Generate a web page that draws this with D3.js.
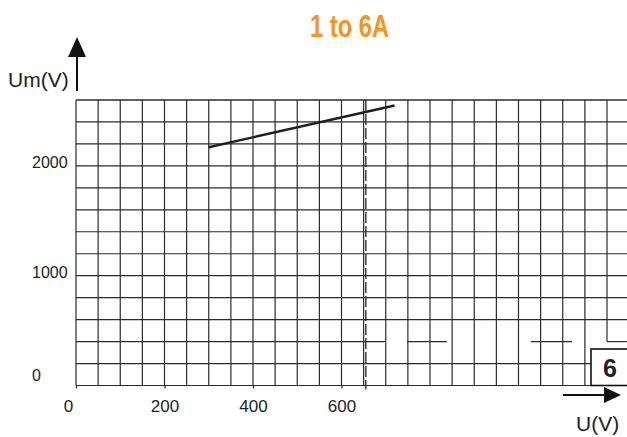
<!DOCTYPE html>
<html>
<head>
<meta charset="utf-8">
<script src="https://cdn.jsdelivr.net/npm/d3@7"></script>
<style>
  body { margin: 0; background: #fff; }
  svg { display: block; }
</style>
</head>
<body>
<div id="chart"></div>
<script>
// data
var curveU = [300, 720];
var curveUm = [2170, 2550];
var markerU = 655;            // dashed vertical line
var xTicks = [0, 200, 400, 600];
var yTicks = [0, 1000, 2000];
var xGrid = d3.range(0, 1201, 50);
var yGrid = [0, 200, 600, 800, 1000, 1200, 1400, 1600, 1800, 2000, 2200, 2400, 2600];
// the 400 line is only partly printed on the paper
var partialGridUm = 400;
var partialGridSegs = [[0, 698], [748, 838], [1028, 1121], [1200, 1245]];

var svgWidth = 627, svgHeight = 437;

var svg = d3.select("#chart").append("svg")
  .attr("width", svgWidth)
  .attr("height", svgHeight);

var x = d3.scaleLinear().domain([0, 1200]).range([76, 607]);
var y = d3.scaleLinear().domain([0, 2600]).range([385.5, 100]);

var ink = "#2b2b2b";

// title
svg.append("text")
  .attr("x", 310)
  .attr("y", 37)
  .attr("textLength", 79)
  .attr("lengthAdjust", "spacingAndGlyphs")
  .attr("font-family", "'Liberation Sans Narrow', 'Liberation Sans', Arial, sans-serif")
  .attr("font-weight", "bold")
  .attr("font-size", "32px")
  .attr("fill", "#f7941d")
  .text("1 to 6A");

// grid
var grid = svg.append("g");
grid.selectAll("line.v")
  .data(xGrid)
  .enter().append("line")
  .attr("class", "v")
  .attr("x1", d => x(d)).attr("x2", d => x(d))
  .attr("y1", y(2600))
  .attr("y2", d => d === 1200 ? y(partialGridUm) : y(0))
  .attr("stroke", ink)
  .attr("stroke-width", 1.2);

grid.selectAll("line.h")
  .data(yGrid)
  .enter().append("line")
  .attr("class", "h")
  .attr("x1", x(0))
  .attr("x2", svgWidth)
  .attr("y1", d => y(d)).attr("y2", d => y(d))
  .attr("stroke", ink)
  .attr("stroke-width", d => d === 2600 ? 1.6 : 1.2);

grid.selectAll("line.p")
  .data(partialGridSegs)
  .enter().append("line")
  .attr("class", "p")
  .attr("x1", d => x(d[0])).attr("x2", d => x(d[1]))
  .attr("y1", y(partialGridUm)).attr("y2", y(partialGridUm))
  .attr("stroke", ink)
  .attr("stroke-width", 1.2);

// x axis labels + small ticks
var xAxis = svg.append("g")
  .attr("transform", `translate(0, ${y(0)})`)
  .call(d3.axisBottom(x).tickValues(xTicks).tickSize(3).tickPadding(11).tickFormat(d3.format("d")));
xAxis.select(".domain").remove();
xAxis.selectAll("line").attr("stroke", ink).attr("stroke-width", 1.2);
xAxis.selectAll("text")
  .attr("font-family", "'Liberation Sans', Arial, sans-serif")
  .attr("font-size", "17px")
  .attr("fill", "#222")
  .attr("dx", d => d === 0 ? -8 : 0);

// y axis labels
var yAxis = svg.append("g")
  .attr("transform", `translate(${x(0)}, 0)`)
  .call(d3.axisLeft(y).tickValues(yTicks).tickSize(0).tickFormat(d3.format("d")));
yAxis.select(".domain").remove();
yAxis.selectAll("text")
  .attr("x", -44)
  .attr("dy", d => d === 0 ? -5 : 1.5)
  .attr("text-anchor", "start")
  .attr("font-family", "'Liberation Sans', Arial, sans-serif")
  .attr("font-size", "16px")
  .attr("fill", "#222");

// dashed marker
svg.append("line")
  .attr("x1", x(markerU)).attr("x2", x(markerU))
  .attr("y1", y(2600)).attr("y2", y(0) + 4)
  .attr("stroke", "#222")
  .attr("stroke-width", 1.3)
  .attr("stroke-dasharray", "11,3");

// curve
var line = d3.line().x(d => x(d[0])).y(d => y(d[1]));
svg.append("path")
  .datum(d3.zip(curveU, curveUm))
  .attr("d", line)
  .attr("fill", "none")
  .attr("stroke", "#1e1e1e")
  .attr("stroke-width", 2.4);

// y axis arrow
svg.append("line")
  .attr("x1", 77).attr("x2", 77)
  .attr("y1", 91).attr("y2", 52)
  .attr("stroke", "#111").attr("stroke-width", 2);
svg.append("path")
  .attr("d", "M77,37 L86,57 L68,57 Z")
  .attr("fill", "#111");
svg.append("text")
  .attr("x", 8).attr("y", 87)
  .attr("font-family", "'Liberation Sans', Arial, sans-serif")
  .attr("font-size", "21px")
  .attr("fill", "#222")
  .text("Um(V)");

// x axis arrow
svg.append("line")
  .attr("x1", 563).attr("x2", 608)
  .attr("y1", 395).attr("y2", 395)
  .attr("stroke", "#111").attr("stroke-width", 2);
svg.append("path")
  .attr("d", "M621,395 L604,387 L604,403 Z")
  .attr("fill", "#111");
svg.append("text")
  .attr("x", 576).attr("y", 431)
  .attr("font-family", "'Liberation Sans', Arial, sans-serif")
  .attr("font-size", "21px")
  .attr("fill", "#222")
  .text("U(V)");

// figure number box
svg.append("rect")
  .attr("x", 591).attr("y", 349)
  .attr("width", 40).attr("height", 36.5)
  .attr("fill", "#fff")
  .attr("stroke", "#111")
  .attr("stroke-width", 1.6);
svg.append("text")
  .attr("x", 610).attr("y", 377)
  .attr("text-anchor", "middle")
  .attr("font-family", "'Liberation Sans', Arial, sans-serif")
  .attr("font-weight", "bold")
  .attr("font-size", "25px")
  .attr("fill", "#222")
  .text("6");
</script>
</body>
</html>
